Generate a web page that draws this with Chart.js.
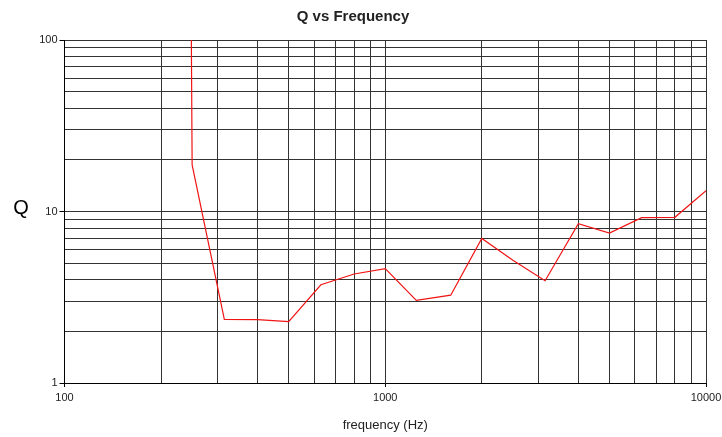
<!DOCTYPE html>
<html>
<head>
<meta charset="utf-8">
<script src="https://cdn.jsdelivr.net/npm/chart.js@4"></script>
<style>
  html, body { margin: 0; padding: 0; background: #fff; }
  #wrap { width: 722px; height: 437px; }
</style>
</head>
<body>
<div id="wrap"><canvas id="qChart" width="722" height="437"></canvas></div>
<script>
// 1/3-octave frequencies (Hz) and measured Q; the 200 Hz value is off the top of the chart
const freqs = [200, 250, 315, 400, 500, 630, 800, 1000, 1250, 1600, 2000, 2500, 3150, 4000, 5000, 6300, 8000, 10000];
const qValues = [1e30, 18.7, 2.35, 2.34, 2.28, 3.74, 4.32, 4.64, 3.03, 3.25, 6.97, 5.2, 3.95, 8.49, 7.49, 9.2, 9.25, 13.2];

const xTicks = [100, 200, 300, 400, 500, 600, 700, 800, 900, 1000, 2000, 3000, 4000, 5000, 6000, 7000, 8000, 9000, 10000];
const yTicks = [1, 2, 3, 4, 5, 6, 7, 8, 9, 10, 20, 30, 40, 50, 60, 70, 80, 90, 100];
const xLabels = [100, 1000, 10000];
const yLabels = [1, 10, 100];

const font = "'Liberation Sans', Arial, sans-serif";
const gridColor = '#333';

// horizontal "Q" axis title on the left
const yTitlePlugin = {
    id: 'yTitle',
    afterDraw(chart) {
        const ctx = chart.ctx;
        ctx.save();
        ctx.font = '20px ' + font;
        ctx.fillStyle = '#000';
        ctx.textAlign = 'center';
        ctx.textBaseline = 'middle';
        ctx.fillText('Q', 21, 208);
        ctx.restore();
    }
};

new Chart(document.getElementById('qChart'), {
    type: 'line',
    data: {
        datasets: [{
            data: freqs.map((f, i) => ({ x: f, y: qValues[i] })),
            borderColor: '#f01414',
            borderWidth: 1.2,
            pointRadius: 0,
            tension: 0,
            fill: false
        }]
    },
    options: {
        responsive: false,
        animation: false,
        events: [],
        layout: { padding: { left: 0, right: 16, top: 0, bottom: 0 } },
        plugins: {
            legend: { display: false },
            tooltip: { enabled: false },
            title: {
                display: true,
                text: 'Q vs Frequency',
                color: '#222',
                font: { family: font, size: 15, weight: 'bold' },
                padding: { top: 8, bottom: 14 }
            }
        },
        scales: {
            x: {
                type: 'logarithmic',
                min: 100,
                max: 10000,
                afterBuildTicks: s => { s.ticks = xTicks.map(v => ({ value: v })); },
                ticks: {
                    autoSkip: false,
                    maxRotation: 0,
                    padding: 4,
                    color: '#222',
                    font: { family: font, size: 11 },
                    callback: v => xLabels.includes(v) ? String(v) : ''
                },
                grid: {
                    color: gridColor,
                    lineWidth: 1,
                    tickLength: 4,
                    tickColor: c => xLabels.includes(c.tick.value) ? '#000' : 'rgba(0,0,0,0)'
                },
                border: { display: true, color: '#000', width: 1 },
                title: {
                    display: true,
                    text: 'frequency (Hz)',
                    color: '#222',
                    font: { family: font, size: 13 },
                    padding: { top: 12, bottom: 4 }
                },
                afterFit: s => { s.height = 54; s.paddingRight = 10; s.paddingLeft = 10; }
            },
            y: {
                type: 'logarithmic',
                min: 1,
                max: 100,
                afterBuildTicks: s => { s.ticks = yTicks.map(v => ({ value: v })); },
                ticks: {
                    autoSkip: false,
                    padding: 2,
                    color: '#222',
                    font: { family: font, size: 11 },
                    callback: v => yLabels.includes(v) ? String(v) : ''
                },
                grid: {
                    color: gridColor,
                    lineWidth: 1,
                    tickLength: 5,
                    tickColor: c => yLabels.includes(c.tick.value) ? '#000' : 'rgba(0,0,0,0)'
                },
                border: { display: true, color: '#000', width: 1 },
                afterFit: s => { s.width = 64.5; }
            }
        }
    },
    plugins: [yTitlePlugin]
});
</script>
</body>
</html>
